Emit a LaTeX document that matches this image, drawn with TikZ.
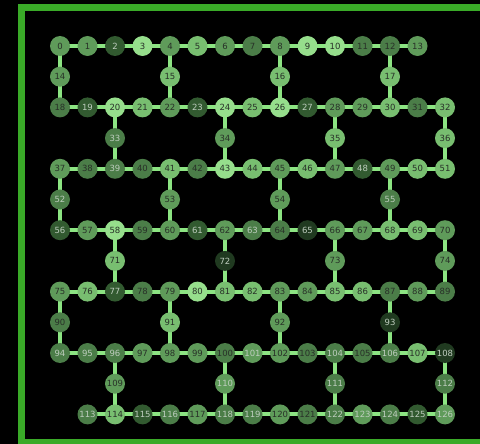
\documentclass[tikz,border=0pt]{standalone}
\usepackage{fontspec}
\setmainfont{DejaVu Sans}
\usetikzlibrary{backgrounds}
\definecolor{bordergreen}{RGB}{58,170,40}
\definecolor{edgegreen}{RGB}{140,228,130}
\definecolor{shadeA}{RGB}{150,222,140}
\definecolor{shadeB}{RGB}{120,190,112}
\definecolor{shadeC}{RGB}{95,155,90}
\definecolor{shadeD}{RGB}{75,125,72}
\definecolor{shadeE}{RGB}{50,90,48}
\definecolor{shadeF}{RGB}{32,58,32}
\definecolor{txtd}{RGB}{40,48,40}
\definecolor{txtl}{RGB}{190,205,190}
\tikzset{
  qubit/.style={circle, minimum size=20pt, inner sep=0pt, font=\fontsize{8.5}{10}\selectfont},
  link/.style={draw=edgegreen, line width=4pt},
  frame/.style={draw=bordergreen, line width=7pt}
}
\begin{document}
\begin{tikzpicture}[x=1pt,y=-1pt]
\useasboundingbox (0,0) rectangle (480,444);
\clip (0,0) rectangle (480,444);
\foreach \i/\c/\r/\s/\t in {
0/0/0/C/d,1/1/0/C/d,2/2/0/E/l,3/3/0/A/d,4/4/0/C/d,5/5/0/B/d,6/6/0/C/d,7/7/0/D/d,8/8/0/C/d,9/9/0/A/d,10/10/0/A/d,11/11/0/D/d,12/12/0/D/d,13/13/0/C/d,
14/0/1/C/d,15/4/1/B/d,16/8/1/B/d,17/12/1/B/d,
18/0/2/D/d,19/1/2/E/l,20/2/2/A/d,21/3/2/B/d,22/4/2/C/d,23/5/2/E/l,24/6/2/A/d,25/7/2/B/d,26/8/2/A/d,27/9/2/E/l,28/10/2/C/d,29/11/2/C/d,30/12/2/B/d,31/13/2/D/d,32/14/2/B/d,
33/2/3/D/l,34/6/3/C/d,35/10/3/B/d,36/14/3/B/d,
37/0/4/C/d,38/1/4/D/d,39/2/4/D/l,40/3/4/D/d,41/4/4/B/d,42/5/4/D/d,43/6/4/A/d,44/7/4/B/d,45/8/4/C/d,46/9/4/B/d,47/10/4/C/d,48/11/4/E/l,49/12/4/C/d,50/13/4/B/d,51/14/4/B/d,
52/0/5/D/l,53/4/5/C/d,54/8/5/C/d,55/12/5/D/l,
56/0/6/E/l,57/1/6/C/d,58/2/6/A/d,59/3/6/D/d,60/4/6/C/d,61/5/6/E/l,62/6/6/C/d,63/7/6/D/l,64/8/6/D/d,65/9/6/F/l,66/10/6/C/d,67/11/6/C/d,68/12/6/B/d,69/13/6/B/d,70/14/6/C/d,
71/2/7/B/d,72/6/7/F/l,73/10/7/C/d,74/14/7/C/d,
75/0/8/C/d,76/1/8/B/d,77/2/8/E/l,78/3/8/D/d,79/4/8/C/d,80/5/8/A/d,81/6/8/B/d,82/7/8/B/d,83/8/8/C/d,84/9/8/C/d,85/10/8/B/d,86/11/8/B/d,87/12/8/D/d,88/13/8/C/d,89/14/8/D/d,
90/0/9/D/d,91/4/9/B/d,92/8/9/C/d,93/12/9/F/l,
94/0/10/D/l,95/1/10/D/l,96/2/10/D/l,97/3/10/C/d,98/4/10/C/d,99/5/10/C/d,100/6/10/D/d,101/7/10/C/l,102/8/10/C/d,103/9/10/D/d,104/10/10/D/l,105/11/10/D/d,106/12/10/D/l,107/13/10/B/d,108/14/10/F/l,
109/2/11/C/d,110/6/11/C/l,111/10/11/D/l,112/14/11/D/l,
113/1/12/D/l,114/2/12/B/d,115/3/12/E/l,116/4/12/D/l,117/5/12/C/d,118/6/12/D/l,119/7/12/D/l,120/8/12/C/d,121/9/12/D/d,122/10/12/D/l,123/11/12/C/l,124/12/12/D/l,125/13/12/E/l,126/14/12/C/l}
  \node[qubit, fill=shade\s, text=txt\t] (q\i) at ({60+27.5*\c},{46+30.7*\r}) {\i};
\begin{scope}[on background layer]
  \fill[black] (0,0) rectangle (480,444);
  \draw[frame] (21,7.5) rectangle (500,442.7);
  \foreach \lo/\hi in {0/12,18/31,37/50,56/69,75/88,94/107,113/125}{
    \foreach \a in {\lo,...,\hi}{
      \pgfmathtruncatemacro{\nb}{\a+1}
      \draw[link] (q\a.center) -- (q\nb.center);
    }
  }
  \foreach \a/\m/\b in {0/14/18,4/15/22,8/16/26,12/17/30,20/33/39,24/34/43,28/35/47,32/36/51,37/52/56,41/53/60,45/54/64,49/55/68,58/71/77,62/72/81,66/73/85,70/74/89,75/90/94,79/91/98,83/92/102,87/93/106,96/109/114,100/110/118,104/111/122,108/112/126}
    \draw[link] (q\a.center) -- (q\m.center) -- (q\b.center);
\end{scope}
\end{tikzpicture}
\end{document}
